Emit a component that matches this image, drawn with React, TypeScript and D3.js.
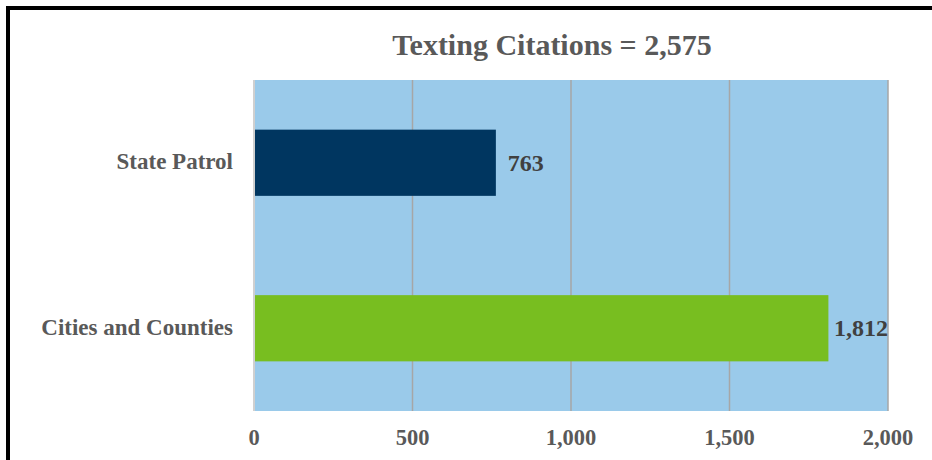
import React from "react";
import * as d3 from "d3";

const categories = ["State Patrol", "Cities and Counties"];
const values = [763, 1812];
const barColors = ["#003660", "#78BE20"];
const xTicks = [0, 500, 1000, 1500, 2000];
const title = "Texting Citations = 2,575";

const W = 932;
const H = 460;
const plot = { left: 254, right: 888, top: 80, bottom: 411 };
const font = "'Liberation Serif', 'Times New Roman', serif";
const labelSize = 24;

// approximate width of a numeric label in Times-like bold digits
const labelWidth = (s: string) =>
  s.split("").reduce((w, ch) => w + (ch === "," ? 0.25 : 0.5), 0) * labelSize;

export default function App() {
  const x = d3.scaleLinear().domain([0, 2000]).range([plot.left, plot.right]);
  const y = d3
    .scaleBand<string>()
    .domain(categories)
    .range([plot.top, plot.bottom])
    .paddingInner(0.6)
    .paddingOuter(0.3);
  const fmt = d3.format(",");

  return (
    <svg
      width={W}
      height={H}
      style={{ position: "absolute", left: 0, top: 0, display: "block" }}
    >
      <rect x={0} y={0} width={W} height={H} fill="#ffffff" />
      {/* frame */}
      <line x1={8} y1={6} x2={8} y2={H} stroke="#000" strokeWidth={4} />
      <line x1={6} y1={8} x2={W} y2={8} stroke="#000" strokeWidth={4} />

      {/* plot background */}
      <rect
        x={plot.left}
        y={plot.top}
        width={plot.right - plot.left}
        height={plot.bottom - plot.top}
        fill="#9ACAEA"
      />
      {/* gridlines */}
      {xTicks.slice(1).map((t) => (
        <line
          key={t}
          x1={x(t)}
          x2={x(t)}
          y1={plot.top}
          y2={plot.bottom}
          stroke="#A6A6A6"
          strokeWidth={1.5}
        />
      ))}
      {/* axis line */}
      <line
        x1={plot.left}
        x2={plot.left}
        y1={plot.top}
        y2={plot.bottom}
        stroke="#D0D0D0"
        strokeWidth={2}
      />

      {/* bars */}
      {categories.map((c, i) => (
        <rect
          key={c}
          x={x(0) + 1}
          y={y(c)!}
          width={x(values[i]) - x(0) - 1}
          height={y.bandwidth()}
          fill={barColors[i]}
        />
      ))}

      {/* data labels */}
      {categories.map((c, i) => {
        const s = fmt(values[i]);
        const lx = Math.min(x(values[i]) + 12, plot.right - labelWidth(s));
        return (
          <text
            key={c}
            x={lx}
            y={y(c)! + y.bandwidth() / 2 + 8}
            fontFamily={font}
            fontWeight="bold"
            fontSize={labelSize}
            fill="#404040"
          >
            {s}
          </text>
        );
      })}

      {/* category labels */}
      {categories.map((c) => (
        <text
          key={c}
          x={233}
          y={y(c)! + y.bandwidth() / 2 + 6.5}
          textAnchor="end"
          fontFamily={font}
          fontWeight="bold"
          fontSize={23}
          fill="#595959"
        >
          {c}
        </text>
      ))}

      {/* x tick labels */}
      {xTicks.map((t) => (
        <text
          key={t}
          x={x(t)}
          y={445}
          textAnchor="middle"
          fontFamily={font}
          fontWeight="bold"
          fontSize={22.5}
          fill="#595959"
        >
          {fmt(t)}
        </text>
      ))}

      {/* title */}
      <text
        x={552}
        y={55}
        textAnchor="middle"
        fontFamily={font}
        fontWeight="bold"
        fontSize={30}
        fill="#595959"
      >
        {title}
      </text>
    </svg>
  );
}
